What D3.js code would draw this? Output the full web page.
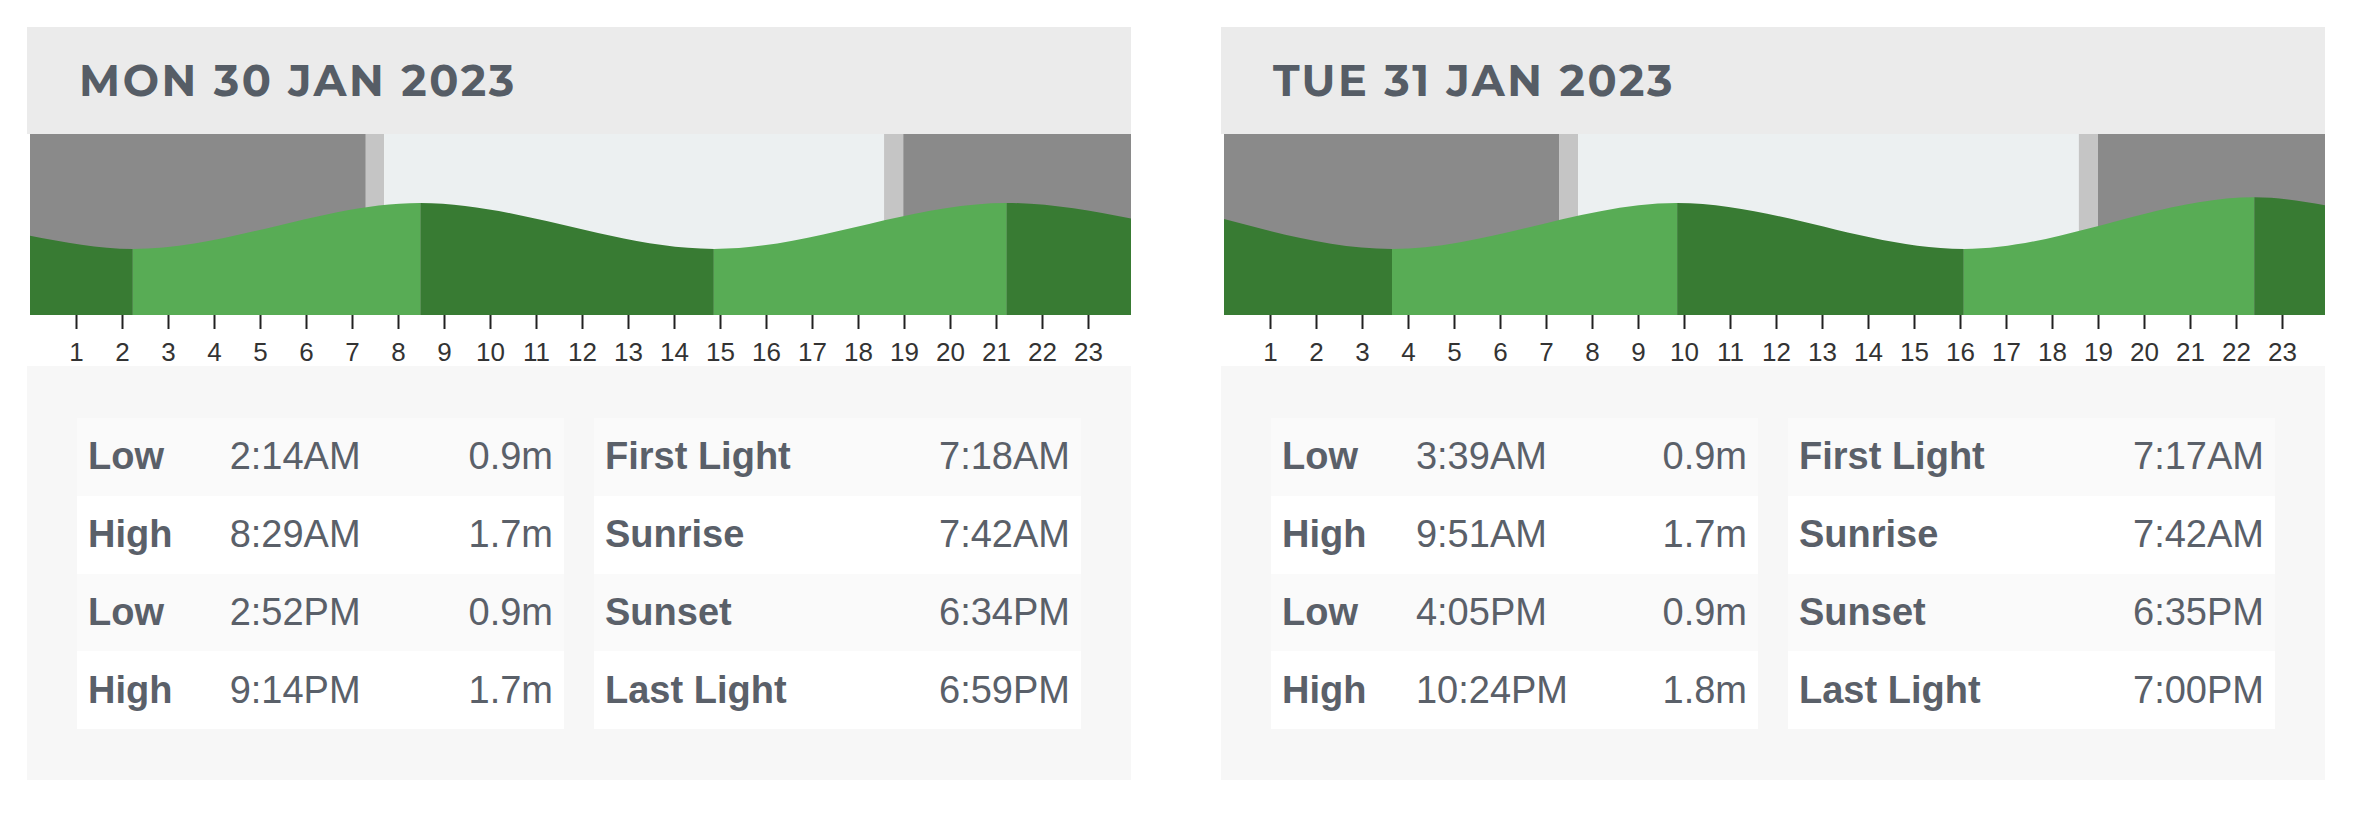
<!DOCTYPE html>
<html><head><meta charset="utf-8">
<script src="https://cdn.jsdelivr.net/npm/d3@7"></script>
<style>
body{margin:0;background:#fff;width:2361px;height:822px;overflow:hidden;font-family:"Liberation Sans",Arial,sans-serif;}
.panel{position:absolute;top:27px;width:1104px;height:753px;}
.panel svg{position:absolute;left:0;top:0;display:block;z-index:2;}
.lower{position:absolute;top:339px;left:0;width:1104px;height:414px;background:#f7f7f7;z-index:1;}
table{position:absolute;top:52px;width:487px;border-collapse:collapse;border-spacing:0;color:#5a6069;font-size:38px;}
td{height:77.75px;padding:0 11px;white-space:nowrap;vertical-align:middle;}
tr:nth-child(odd) td{background:#fafafa}
tr:nth-child(even) td{background:#ffffff}
</style></head>
<body>
<script>
// ---- data ----
const days = ["MON 30 JAN 2023", "TUE 31 JAN 2023"];
const tideTypes = [["Low","High","Low","High"],["Low","High","Low","High"]];
const tideTimes = [["2:14AM","8:29AM","2:52PM","9:14PM"],["3:39AM","9:51AM","4:05PM","10:24PM"]];
const tideHeights = [[0.9,1.7,0.9,1.7],[0.9,1.7,0.9,1.8]];
const edgeHeights = [[1.13,1.42],[1.42,1.65]];   // tide level at 0:00 and 24:00
const sunLabels = ["First Light","Sunrise","Sunset","Last Light"];
const sunTimes = [["7:18AM","7:42AM","6:34PM","6:59PM"],["7:17AM","7:42AM","6:35PM","7:00PM"]];
const hourTicks = [1,2,3,4,5,6,7,8,9,10,11,12,13,14,15,16,17,18,19,20,21,22,23];

// ---- helpers ----
const parseT = s => { const m = s.match(/(\d+):(\d+)(AM|PM)/); let h = (+m[1]) % 12; if (m[3]==="PM") h += 12; return h + (+m[2])/60; };
const fmtH = v => d3.format(".1f")(v) + "m";

const W = 1104, headerH = 107, chartTop = 107, chartBot = 288, svgH = 339;
const colors = {header:"#ebebeb", night:"#8a8a8a", twilight:"#c5c5c5", day:"#ecf0f1", fall:"#387b33", rise:"#58ac55", title:"#565d66"};

const x = d3.scaleLinear().domain([0,24]).range([3, 1107]);
const y = d3.scaleLinear().domain([-0.25, 2.9]).range([chartBot, chartTop]);

days.forEach((day, i) => {
  const panel = d3.select("body").append("div").attr("class","panel").style("left", (27 + i*1194) + "px");
  const svg = panel.append("svg").attr("width", W).attr("height", svgH);

  svg.append("rect").attr("x",0).attr("y",0).attr("width",W).attr("height",headerH).attr("fill",colors.header);
  svg.append("text").attr("x",52).attr("y",69)
    .attr("font-family","Montserrat, Inter, 'Open Sans', sans-serif").attr("font-weight",700)
    .attr("font-size",43).attr("letter-spacing","2.6px").attr("fill",colors.title).text(day);

  const defs = svg.append("defs");
  defs.append("clipPath").attr("id","cc"+i).append("rect")
    .attr("x",0).attr("y",chartTop).attr("width",W).attr("height",chartBot-chartTop);
  const g = svg.append("g").attr("clip-path",`url(#cc${i})`);

  // light bands
  const st = sunTimes[i].map(parseT);
  const bands = [[0,st[0],"night"],[st[0],st[1],"twilight"],[st[1],st[2],"day"],[st[2],st[3],"twilight"],[st[3],24,"night"]];
  g.selectAll("rect.band").data(bands).join("rect").attr("class","band")
    .attr("x",d=>x(d[0])).attr("width",d=>x(d[1])-x(d[0]))
    .attr("y",chartTop).attr("height",chartBot-chartTop).attr("fill",d=>colors[d[2]]);

  // tide curve
  const pts = [[0, edgeHeights[i][0]]].concat(tideTimes[i].map((t,j)=>[parseT(t), tideHeights[i][j]]), [[24, edgeHeights[i][1]]]);
  const area = d3.area().x(d=>x(d[0])).y0(chartBot).y1(d=>y(d[1])).curve(d3.curveMonotoneX);
  const segs = d3.pairs(pts);
  segs.forEach((s, k) => {
    const id = `seg${i}_${k}`;
    const x0 = k===0 ? -10 : x(s[0][0]);
    const x1 = k===segs.length-1 ? W+20 : x(s[1][0]);
    defs.append("clipPath").attr("id",id).append("rect")
      .attr("x", x0).attr("y",0).attr("width", x1 - x0).attr("height",svgH);
    g.append("path").datum(pts).attr("d",area).attr("clip-path",`url(#${id})`)
      .attr("fill", s[1][1] < s[0][1] ? colors.fall : colors.rise);
  });

  // hour axis
  const ax = svg.append("g").attr("transform",`translate(0,${chartBot})`)
    .call(d3.axisBottom(x).tickValues(hourTicks).tickSize(14).tickPadding(14).tickFormat(d3.format("d")));
  ax.select(".domain").remove();
  ax.selectAll(".tick line").attr("stroke","#222").attr("stroke-width",2);
  ax.selectAll(".tick text").attr("fill","#333").attr("font-size",26).attr("font-family","'Liberation Sans', Arial, sans-serif");

  // tables
  const lower = panel.append("div").attr("class","lower");
  const t1 = lower.append("table").style("left","50px");
  const r1 = t1.selectAll("tr").data(tideTypes[i].map((d,j)=>j)).join("tr");
  r1.append("td").style("font-weight","bold").text(j=>tideTypes[i][j]);
  r1.append("td").text(j=>tideTimes[i][j]);
  r1.append("td").style("text-align","right").text(j=>fmtH(tideHeights[i][j]));

  const t2 = lower.append("table").style("left","567px");
  const r2 = t2.selectAll("tr").data(sunLabels.map((d,j)=>j)).join("tr");
  r2.append("td").style("font-weight","bold").text(j=>sunLabels[j]);
  r2.append("td").style("text-align","right").text(j=>sunTimes[i][j]);
});
</script>
</body></html>
